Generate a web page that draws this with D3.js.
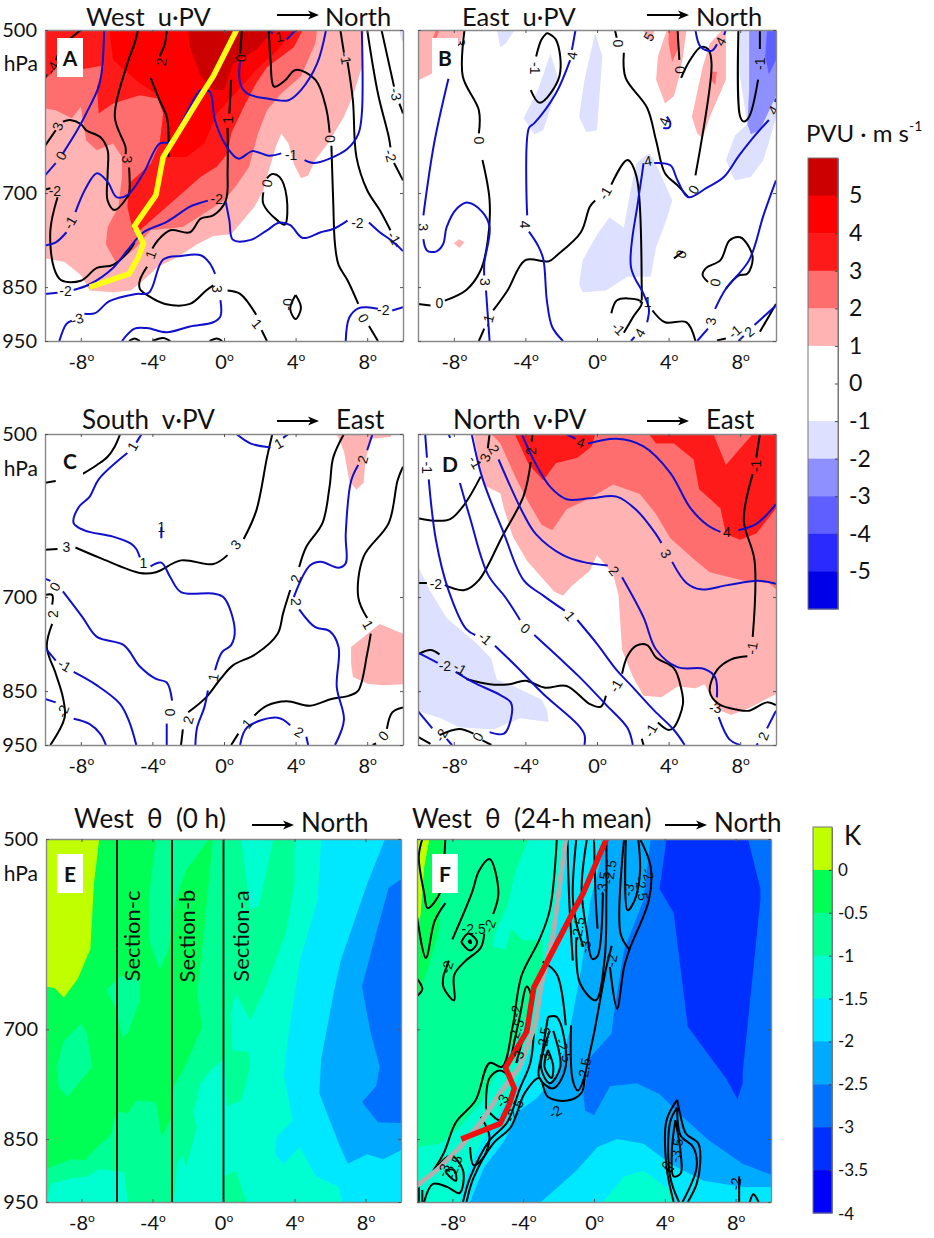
<!DOCTYPE html>
<html><head><meta charset="utf-8">
<script src="https://cdn.jsdelivr.net/npm/d3@7"></script>
<style>html,body{margin:0;padding:0;background:#fff}svg{display:block}text{font-family:Lato,"Open Sans",sans-serif;fill:#111}.cl{font-family:"Liberation Sans",sans-serif;font-size:14px;text-anchor:middle;dominant-baseline:central}</style>
</head><body><svg id="c" width="934" height="1238"></svg>
<script>
// ---------- Values: [latitude offset in degrees, pressure in hPa] ----------
const xTicks=[-8,-4,0,4,8], pTicks=[500,700,850,950];
const pvuLevels=[5,4,3,2,1,0,-1,-2,-3,-4,-5];
const kLevels=[0,-0.5,-1,-1.5,-2,-2.5,-3,-3.5,-4];
const front=[[-7.5,850],[-5.3,827],[-4.8,800],[-4.5,777],[-5,749],[-3.8,703],[-3.4,650],[-1.1,566],[-.6,550],[.7,500]];
const grayFront=[[-10,923],[-8.8,896],[-7.5,860],[-6.3,822],[-5.3,783],[-4.2,748],[-3.3,693],[-3,649],[-2.3,591],[-2,550],[-1.6,500]];
const sectionLats=[-6,-2.9,0], sectionNames=["Section-c","Section-b","Section-a"];

// Panel A
const aFill=[
 [1,[[-10,500],[7.8,500],[7.7,540],[7.2,573],[6.7,598],[5.8,632],[5.1,654],[4.7,675],[4.3,679],[3.9,659],[3.6,632],[3.2,619],[2.9,636],[2.4,677],[2.2,696],[1.7,720],[.9,746],[.4,762],[-.6,765],[-1.5,778],[-2.6,799],[-3.7,815],[-4.5,838],[-5.2,856],[-6.2,859],[-7.5,856],[-8,829],[-8.9,807],[-10,801]]],
 [2,[[-10,500],[5.2,500],[5.1,514],[4.3,550],[3.2,570],[2.4,590],[1.9,619],[1.4,663],[.7,689],[0,711],[-1.1,730],[-2.3,751],[-4.1,756],[-4.9,783],[-6,810],[-6.6,778],[-6.5,751],[-5.9,720],[-5.7,677],[-5.7,650],[-6.2,632],[-7.1,641],[-7.7,628],[-8,586],[-8.5,600],[-9.4,590],[-10,588]]],
 [3,[[-10,500],[4.4,500],[3.9,518],[2.4,540],[1.8,558],[1.1,586],[.4,619],[.2,645],[-.4,663],[-1.3,677],[-3.2,720],[-4.7,756],[-5.1,756],[-5.4,720],[-5.3,686],[-4.1,659],[-3.6,632],[-3.4,594],[-3.7,576],[-4.7,572],[-6.2,582],[-7,594],[-7.1,562],[-6.7,538],[-8.2,543],[-9.3,539],[-10,554]]],
 [4,[[-6.4,500],[3.9,500],[3,521],[1.8,543],[.5,573],[-.4,594],[-1.1,632],[-2.1,650],[-3.2,650],[-3.1,611],[-3.6,573],[-4.7,558],[-6.2,532]]],
 [5,[[-2,500],[2.7,500],[2.6,503],[1.8,521],[.5,536],[0,566],[-.6,566],[-1.3,550],[-1.9,518]]],
 [-1,[[9.8,500],[10,500],[10,512],[9.9,510]]]
];
const aBlack=[
 [[-9.4,532],[-9,517],[-8,500]],[[-10,552],[-9.9,548]],
 [[-4.8,500],[-5,514],[-5.4,536],[-6.1,598],[-5.5,637],[-5.5,646]],
 [[-5.3,664],[-5.3,701],[-5.4,706],[-6.1,725],[-6.5,711],[-6.5,672],[-6.5,641],[-6.9,624],[-7.7,615],[-8,607],[-8.6,602],[-9,604]],
 [[-9.4,615],[-10,635]],
 [[-3.2,500],[-3.3,514],[-3.6,528]],[[-4.1,552],[-3.6,578],[-3.2,598],[-3.1,620],[-3.1,650]],
 [[1,500],[.9,525]],[[.4,554],[.3,594]],
 [[.2,612],[.2,668],[.1,711],[-.6,733],[-1.3,738],[-1.9,759],[-3,756],[-3.7,772],[-4,785]],
 [[-4.3,815],[-4.7,838],[-4.7,853],[-4.2,866],[-3.3,880],[-1.9,880],[-1,856],[-.6,847]],
 [[.2,856],[.9,862],[1.8,900]],[[2.1,929],[2.4,950]],
 [[-9.3,706],[-9.7,756],[-9.5,817],[-9.1,838],[-8,839],[-7.1,817],[-6.2,812],[-5.2,785],[-5,775]],
 [[-10,695],[-9.7,693]],
 [[2.5,500],[2.6,532],[2.8,562],[3.4,555],[4,543],[5.1,554],[5.7,587],[5.9,618]],
 [[6,635],[6.1,711],[6.2,778],[6.4,812],[6.9,838],[7.5,880]],[[8.1,921],[8.6,950]],
 [[6.5,500],[6.7,524]],[[6.9,534],[7.2,578],[7.4,650],[8,696],[8.7,725],[9.3,756]],[[9.6,777],[9.7,782]],
 [[8,500],[8.6,570],[9.2,623],[9.3,637]],[[9.5,658],[10,682]],
 [[8.8,500],[9.5,562]],[[9.8,582],[10,594]],
 [[2.2,699],[2.2,716],[3,741],[3.4,747],[3.5,706],[3.1,677],[2.7,673],[2.4,679]],
 [[4,864],[3.7,889],[4,908],[4.3,887],[4,864]],
 [[-5.3,950],[-5,945],[-4.7,950]],[[-4,950],[-3.4,944],[-3,950]],[[-.8,950],[-.4,945],[-.1,950]]
];
const aBlue=[
 [[-6.7,500],[-6.8,540],[-7,562],[-7.7,594],[-8.2,615],[-9,645]],[[-9.4,658],[-10,675]],
 [[-10,780],[-9.4,775],[-8.8,759]],
 [[-8.3,728],[-7.7,692],[-7.1,672],[-6.5,684],[-6,706],[-5.4,703],[-4.5,672],[-3.6,632],[-3,630],[-2.1,594],[-1.3,566],[-.8,568],[-.5,603],[.2,638],[.8,652],[1.6,642],[2.5,648],[3.2,645]],
 [[4.5,654],[5,658],[5.9,652],[6.9,639],[7.5,620],[7.7,594],[7.7,500]],
 [[5.7,500],[5.2,536],[4.3,566],[3.6,578],[2.4,576],[1.3,570],[.9,558],[.9,532]],
 [[3.5,510],[4,500]],[[2.6,500],[2.7,504]],
 [[-10,862],[-9.3,860]],
 [[-8.4,855],[-7.5,845],[-6.2,817],[-5.4,788],[-4.5,759],[-3.2,743],[-1.9,720],[-1.4,715],[-.9,711]],
 [[.1,713],[.3,741],[.5,771],[1.5,771],[2.4,756],[3.1,744],[3.7,748],[4.4,768],[5.4,759],[6.1,754],[6.9,741]],
 [[8.1,744],[8.7,759],[9.3,771],[10,789]],
 [[-9.2,950],[-8.8,917],[-8.5,911]],
 [[-7.8,898],[-7.2,897],[-6.4,875],[-4.9,862],[-4.2,860],[-3.4,803],[-2.4,797],[-1.3,796],[-.8,809],[-.5,827]],
 [[-5.7,950],[-5,926],[-4.3,925],[-3.2,933],[-1.9,922],[-.6,914],[-.2,903],[-.2,873]],
 [[6.8,950],[7,905],[7.5,888],[8,886],[8.6,889]],[[9.4,892],[10,886]]
];
const aLabels=[["-4",-9.6,541,-60],["2",-3.5,534,-80],["3",-5.4,653,90],["0",.95,530,90],["1",.2,602,-90],["-1",6.8,530,80],["-3",9.6,571,80],["-2",9.3,648,75],["-1",9.5,768,60],["0",5.9,626,90],["0",2.4,686,-80],["-2",-9.45,697,0],["1",-4.1,795,-70],["3",-.4,853,90],["1",1.85,917,50],["-0",3.6,881,-90],["0",7.8,906,60],["3",-9.3,610,-70],
 ["0",-9.1,648,-60],["-1",-8.6,744,-60],["-1",3.75,647,0],["-2",-8.85,857,0],["-2",-.4,709,0],["-2",7.45,744,0],["-3",-8.2,908,-15],["-2",8.9,892,0],["1",3.1,507,-10]];

// Panel B
const bFill=[
 [1,[[-10,500],[-7.4,500],[-8,530],[-9,545],[-10,555]]],
 [2,[[-9,500],[-8.8,500],[-9,510],[-9.2,510]]],
 [1,[[-8,776],[-7.7,770],[-7.4,775],[-7.7,784]]],
 [1,[[2.6,500],[3.2,500],[3.1,510],[2.8,510]]],
 [1,[[3.9,500],[5,500],[4.8,528],[4.6,550],[4.3,573],[3.8,582],[3.3,554],[3.4,528]]],
 [2,[[4,500],[4.6,500],[4.5,521],[4.2,534],[4,514]]],
 [1,[[7,500],[7.2,500],[7.2,554],[6.3,598],[5.9,625],[5.6,619],[5.3,598],[5.9,540],[6.3,514]]],
 [2,[[6.4,545],[6.7,545],[6.6,560],[6.4,555]]],
 [-1,[[-5.6,500],[-4.6,500],[-5.1,514],[-5.4,518]]],
 [-1,[[-2.6,525],[-2.2,550],[-2.6,588],[-3,615],[-3.5,620],[-4.1,600],[-3.3,566]]],
 [-1,[[-.1,503],[.3,528],[0,615],[-.6,617],[-1,598],[-.7,554]]],
 [-1,[[7.9,500],[10,500],[10,600],[9.3,654],[8.6,677],[7.7,682],[7.2,654],[7.7,622],[8.4,607],[7.9,540]]],
 [-2,[[8.5,500],[10,500],[10,573],[9.1,615],[8.6,620],[8.4,607],[8.5,566]]],
 [-3,[[9.5,500],[10,500],[10,532],[9.6,548],[9.4,528]]],
 [-1,[[2.9,645],[3.2,654],[4.2,711],[3.9,738],[3.3,783],[3,832],[1.7,832],[.5,856],[-.8,859],[-1,845],[-.8,804],[0,763],[.7,736],[1.5,752],[1.9,693],[2.2,659],[2.6,650]]]
];
const bBlack=[
 [[-10,880],[-9.3,883]],
 [[-8.5,874],[-7.3,855],[-6.5,821],[-6.1,772],[-6,711],[-6.4,654]],
 [[-6.6,619],[-6.6,590],[-7.5,550],[-7.4,500]],
 [[-6.6,950],[-6.3,926]],
 [[-5.8,892],[-5,856],[-4,804],[-2.7,806],[-2.2,795],[-.9,759],[-.4,720],[-.1,711]],
 [[.8,688],[1.7,654],[2.2,676],[2.5,851],[2.5,874]],
 [[3.1,892],[3.8,914],[5,914],[5.5,950]],
 [[-2.8,503],[-2.3,510],[-2.1,550],[-3.2,581],[-3.7,566]],[[-3.4,528],[-3.1,510],[-2.8,503]],
 [[1,500],[1.1,508]],[[1.5,524],[1.6,552],[2.8,587],[3.3,628],[3.8,672],[4.5,689],[5.1,706]],
 [[5.5,675],[6.4,536],[6.2,520],[5.8,518],[5.2,532],[4.7,552]],
 [[4.5,500],[4.6,532]],
 [[7.9,500],[8,598],[8.2,604],[8.5,598],[9,554]],[[9.1,520],[9.1,500]],
 [[4.3,801],[4.8,790]],
 [[6.2,841],[5.9,829],[6.1,817],[6.9,804],[7.4,772],[8,767],[8.5,783],[8.7,802],[8.4,827],[7.9,830],[7.2,853]],
 [[.8,897],[1.1,874],[1.7,870],[2.5,877],[2,905],[1.5,934]],
 [[6.7,949],[7.2,945]],[[9.1,932],[9.6,903],[10,880]]
];
const bBlue=[
 [[-8.3,553],[-9.1,632],[-9.7,733]],
 [[-9.7,770],[-9.5,788],[-9,790],[-8.6,778],[-8.4,751],[-7.8,722],[-7.2,714],[-6.4,728],[-6,751],[-6.3,810],[-6.3,830]],
 [[-6.2,856],[-6,950]],
 [[-1.2,500],[-1.4,521]],
 [[-1.5,532],[-2.3,570],[-3.5,606],[-3.8,612],[-3.9,733]],
 [[-3.8,758],[-3.3,780],[-3,802],[-2.8,874],[-2.5,923],[-1.9,950]],
 [[2.6,658],[2.5,676],[2.3,711],[1.9,816],[2.6,862],[2.9,889],[2.8,914]],[[1.9,950],[2.1,942]],
 [[3.2,658],[4.1,661],[4.5,682],[5.1,706],[6.1,693],[7.1,677],[7.9,649],[8.7,625],[9.6,602]],[[10,576],[9.95,580]],
 [[5.5,500],[5.8,518],[6.4,522],[6.7,515]],[[7.1,505],[7.2,500]],
 [[3.9,598],[4.1,606],[4,612],[3.7,612]],
 [[5.6,950],[6.2,926]],[[6.6,889],[7.2,853],[8.5,804],[9.3,733],[10,682]],
 [[7.9,950],[8.2,940]],[[8.8,919],[10,883]]
];
const bLabels=[["0",-8.8,879,0],["0",-6.6,628,90],["-1",-3.45,541,90],["-1",.45,700,-60],["0",1.2,514,90],["0",4.65,543,90],["5",2.9,507,-60],["0",5.4,695,-60],["-1",9.1,536,-90],["0",6.6,842,-80],["0",4.7,794,-70],["-1",1.2,926,45],["-1",2.7,877,0],["-1",7.7,932,-40],["-1",-6.1,911,-75],
 ["3",-9.7,751,90],["3",-6.25,841,90],["3",-7.65,513,90],["4",-1.4,527,-80],["4",-4,747,90],["4",2.85,655,-10],["4",2.4,934,-60],["4",6.9,512,-60],["4",3.75,604,-70],["4",9.85,590,-60],["3",6.35,912,-80],["2",8.5,932,-40]];

// Panel C
const cFill=[
 [1,[[6.3,500],[9.4,500],[9.3,503],[8.2,505],[7.9,528],[7.8,553],[7.4,561],[7,551],[6.7,518]]],
 [1,[[7.1,776],[8.7,740],[10,755],[10,838],[8.9,840],[8,837],[7.2,825],[7.1,803]]]
];
const cBlack=[
 [[-7.9,543],[-7.1,533],[-6.5,524],[-6.1,513],[-5.8,500]],[[-10,553],[-9.4,551]],
 [[-10,635],[-9.3,634]],
 [[-8.3,632],[-6.9,646],[-4.7,666],[-3.8,665],[-2.4,649],[-.6,654],[.2,642]],
 [[1.1,621],[1.8,586],[2.4,525],[2.7,500]],
 [[6.7,500],[6.1,525],[5.9,557],[5.5,601],[4.6,631],[4.2,658]],
 [[3.7,690],[3.3,724],[3,755],[1.8,787],[.5,806],[-.2,829],[-1,861],[-2,888]],
 [[-2.3,920],[-2.4,950]],
 [[10,535],[9.7,550],[9.2,601],[7.8,644],[7.5,700],[8,731]],
 [[8.2,755],[8,787],[7.5,849],[7,858],[6,864],[4.8,876],[3.5,868],[2.4,876],[1.7,894]],
 [[.8,928],[.4,950]],
 [[10,879],[9.4,888],[9.1,919]],[[8.5,947],[8.3,950]],
 [[-10,697],[-9.6,697],[-9.6,711]],
 [[-9.6,740],[-9.9,776],[-9.4,820],[-9,861],[-8.9,897],[-9.7,950]]
];
const cBlue=[
 [[-4.6,500],[-4.9,509]],
 [[-5.4,520],[-7,549],[-7.5,569],[-8.1,581],[-8.4,601],[-7.8,610],[-6.2,618],[-5.2,627],[-4.9,634],[-4.7,645]],
 [[-4.1,657],[-3.5,652],[-3,672],[-2.4,693],[-.6,695],[0,701],[.6,749],[.4,773],[-.1,784],[-.5,814]],
 [[-.9,849],[-1.1,879],[-1.5,916],[-1.6,950]],
 [[.7,500],[1.5,510],[2.6,514]],[[3.3,504],[3.6,500]],
 [[-3.5,606],[-3.5,620]],
 [[8.3,500],[8,517]],
 [[7.5,533],[7.1,551],[6.8,615],[6.8,653],[6.4,659],[5.4,651],[4.8,656],[3.9,700]],
 [[4.2,718],[5.1,745],[5.9,751],[6.4,776],[6.3,843],[6.7,902],[6.2,950]],
 [[.9,950],[1.3,916],[3,898],[3.7,912]],[[4.6,934],[4.7,950]],
 [[-10,674],[-9.7,677]],
 [[-9,692],[-7.9,730],[-7.1,760],[-5.6,773],[-4.7,808],[-3.8,829],[-3.2,835],[-2.9,867]],
 [[-3.2,909],[-3.2,950]],
 [[-10,777],[-9.4,798]],[[-8.4,817],[-7.1,840],[-5.8,873],[-5.3,905],[-4.9,950]],
 [[-10,864],[-9.4,870]],[[-8.4,900],[-7.5,910],[-6.9,929],[-6.6,950]]
];
const cLabels=[["3",-8.8,631,0],["3",.65,628,-50],["2",4,674,-75],["2",-9.55,725,-90],["2",-2,902,-75],["1",8.05,741,60],["1",1.3,909,-50],["0",8.9,932,-50],["-2",-9,886,-70],
 ["1",-5.1,513,-60],["1",-4.5,653,0],["1",3.05,510,-30],["1",-3.5,606,0],["0",-9.45,685,-60],["-1",-8.9,806,30],["1",-.6,826,-80],["2",7.75,527,-75],["2",4,707,90],["2",4.2,925,30],["0",-3,888,-90]];

// Panel D
const dFill=[
 [1,[[-6.9,500],[10,500],[10,855],[8.5,880],[7.5,893],[6.8,884],[6,838],[5.5,845],[4.5,842],[3.6,861],[2.6,858],[2,825],[1.4,781],[1.2,697],[.9,668],[0,642],[-.4,663],[-1.4,684],[-1.9,698],[-2.4,692],[-3.9,650],[-4.7,618],[-5.2,583],[-5.4,565],[-6.3,556],[-6.6,530]]],
 [2,[[-5.9,500],[10,500],[10,689],[9.6,680],[8.2,677],[6.3,665],[5.4,647],[4.1,620],[3.3,590],[2.4,566],[.9,555],[-.4,571],[-1.7,584],[-2.5,610],[-3.1,603],[-3.9,573],[-4.5,549],[-5.4,510]]],
 [3,[[-4.6,500],[-.1,500],[-.3,513],[-1.1,525],[-2.3,531],[-3,550],[-3.8,533]]],
 [3,[[2.9,500],[3.3,510],[4.3,510],[5.4,527],[5.7,560],[6.9,583],[7.2,615],[8,622],[8.9,614],[10,583],[10,500],[8.7,500],[7.2,533],[6.5,500]]],
 [-1,[[-10,657],[-9.3,692],[-8.4,731],[-6.7,771],[-5.9,795],[-5.6,830],[-4.9,838],[-3.1,865],[-2.8,884],[-2.7,906],[-4.3,899],[-5.8,920],[-7.7,916],[-8.8,898],[-10,886]]]
];
const dBlack=[
 [[-10,595],[-9.1,598],[-8.2,596],[-7.4,578],[-6.5,546]],[[-6.1,515],[-6,500]],
 [[-10,680],[-9.5,680]],
 [[-8.5,683],[-7.4,690],[-6.6,676],[-5.3,618],[-4.1,568],[-3.7,530]],[[-3.65,508],[-3.6,500]],
 [[9.1,500],[8.9,525]],
 [[8.7,543],[8.2,597],[8.8,649],[8.7,760]],
 [[8.4,791],[7.5,796],[6.7,814],[6.3,851],[6.8,873],[7.8,883],[8.5,885],[9.5,870],[10,875]],
 [[-10,788],[-9.3,781],[-8.8,788]],
 [[-7.3,829],[-6,838],[-4.9,838],[-4,832],[-2.9,844],[-1.7,841],[-.4,873],[.2,878],[.5,858]],
 [[1.4,820],[1.7,791],[2.2,774],[2.8,773],[3.3,793],[4.3,811],[4.7,845],[4.8,873],[4.3,916],[4,921],[3.4,907]],
 [[2.5,938],[2.6,950]],
 [[-10,934],[-9.3,948]],[[-8.8,931],[-7.7,919],[-6.9,928]],[[-6.4,941],[-5.9,950]]
];
const dBlue=[
 [[-9.6,500],[-9.5,525]],[[-9.4,549],[-9,622],[-8.3,690],[-7.3,748],[-6.8,757]],
 [[-5.7,774],[-4.5,808],[-3,855],[-1.1,910],[-.7,930],[-.7,950]],
 [[-10,785],[-8.9,802]],[[-7.9,817],[-6.9,835],[-5.4,857],[-4.8,871],[-4.8,899],[-5.2,928],[-6,925]],
 [[-10,886],[-9.2,918]],[[-8.4,938],[-8.1,950]],
 [[-8.3,500],[-8.2,504]],[[-7.7,550],[-7.1,594],[-6.1,668],[-5.1,701],[-4.3,734]],
 [[-3.5,757],[-2.1,794],[-1,825],[.5,874],[1.7,917],[2,950]],
 [[-7,500],[-6.4,548],[-5.2,614],[-4.1,676],[-3,698],[-1.8,720]],
 [[-1.1,734],[0,771],[1.1,814],[1.9,840],[3.2,885],[4.3,921],[4.9,950]],
 [[-5.5,527],[-4.1,590],[-3.4,615],[-1.9,642],[-.8,651],[.6,656]],
 [[1.4,672],[2.6,730],[3.3,780],[4.5,809],[6,812],[6.6,826],[6.7,861]],
 [[6.8,897],[7.4,939],[8,950]],[[10,885],[9.5,918]],[[9,947],[8.9,950]],
 [[-4.2,500],[-3.5,529],[-2.6,558],[-1.7,572],[-.4,571],[1.1,569],[2.2,585],[3.3,615],[3.6,626]],
 [[4.2,651],[5,680],[5.8,689],[7.3,683],[9,677],[10,681]],
 [[-1.7,500],[-1.2,505]],[[-.5,510],[1.1,505],[2.6,513],[4.1,542],[5.2,582],[6.2,604],[6.9,612]],
 [[7.9,610],[8.9,602],[10,578]]
];
const dLabels=[["2",-3.7,518,-90],["-2",-9,682,0],["-1",8.9,534,-90],["-1",8.65,778,-80],["-2",-8.5,807,0],["-1",-7.65,811,30],["-1",1.05,841,-60],["-1",3,922,-60],["0",-6.65,934,-60],["-2",-8.7,931,-60],["-3",6.6,880,0],
 ["-1",-9.5,536,90],["-1",-6.25,762,40],["0",-4,747,40],["1",-1.5,728,50],["2",.95,663,50],["3",3.85,640,60],["4",7.25,612,0],["4",-.9,509,20],["3",-6.25,525,-70],["2",-5.75,516,60],["2",9.3,933,-70],["-1",-6.8,530,60]];

// Panel E (fills are layered from warm to cold; first entry below is the area above 0 K)
const eFill=[
 [0,[[-10,500],[-7,500],[-7.3,541],[-7.5,607],[-8.2,640],[-9,662],[-9.5,651],[-10,649]]],
 [-.5,[[-10,896],[-8.6,881],[-7.8,882],[-7.1,862],[-6.3,842],[-6.2,822],[-5.9,810],[-5.4,812],[-4.9,794],[-3.8,796],[-3.5,847],[-3,822],[-2.8,774],[-2.1,744],[-1.2,697],[-1.5,657],[-1.1,591],[-.6,500],[10,500],[10,950],[-10,950]]],
 [-.5,[[-3.8,500],[-.8,500],[-2.1,528],[-2.7,557],[-3.1,608],[-3.6,630],[-4.2,598],[-4.2,553]]],
 [-.5,[[-6.6,653],[-5.8,637],[-4.7,641],[-4.7,665],[-5.4,705],[-5.7,710],[-6.1,673]]],
 [-.5,[[-9.4,748],[-9,714],[-8,693],[-7.7,705],[-7.4,748],[-8.8,789],[-9.3,774]]],
 [-1,[[4,500],[4,541],[3.5,591],[2.4,649],[1.5,689],[.7,657],[.4,681],[.5,726],[1.4,729],[1.5,748],[1,794],[.2,802],[0,738],[-.8,755],[-1.3,770],[-1.7,812],[-1.5,832],[-1.8,862],[-2.1,893],[-2.3,876],[-2.6,885],[-2.8,950],[0,950],[0,908],[.7,899],[1.3,950],[10,950],[10,500]]],
 [-1,[[-10,950],[-9.7,920],[-8.6,911],[-7.7,908],[-7,896],[-5.6,901],[-5.4,950]]],
 [-1,[[1,500],[1.5,566],[2,563],[2.8,500]]],
 [-1.5,[[5.5,500],[5.3,557],[4.3,620],[3.6,716],[3.4,760],[3.9,822],[3,847],[2.9,873],[3.4,888],[4.3,862],[5.2,908],[6.5,925],[6.7,950],[10,950],[10,500]]],
 [-2,[[9.1,500],[8.1,541],[6.6,620],[6.2,657],[5.5,738],[5.4,784],[6.5,857],[7,888],[8.1,873],[9,881],[10,867],[10,500]]],
 [-2.5,[[10,537],[9.3,545],[8.6,591],[7.8,649],[8.3,705],[8.8,748],[8.6,774],[7.8,796],[8.7,825],[10,826]]]
];

// Panel F
const fFill=[
 [0,[[-10,500],[-9.3,500],[-9.6,526],[-9.8,572],[-10,586]]],
 [-.5,[[-8.5,500],[-8.6,541],[-8.8,591],[-9.5,635],[-10,665],[-10,950],[10,950],[10,500]]],
 [-1,[[-3.7,500],[-4.4,528],[-4.9,563],[-5.6,591],[-5.7,605],[-5,608],[-4.7,586],[-4,598],[-2.9,598],[-2.9,635],[-3.6,673],[-4.4,713],[-5.3,748],[-6.3,794],[-7.6,832],[-8.7,857],[-10,862],[-10,950],[10,950],[10,500]]],
 [-1.5,[[-1.6,500],[-1.9,557],[-2.7,608],[-3,649],[-3.2,705],[-4,748],[-4.7,787],[-6.1,842],[-7.1,893],[-7.6,950],[10,950],[10,500]]],
 [-2,[[.7,500],[-.2,557],[-.7,627],[-1.4,705],[-2.1,758],[-3.2,790],[-4.2,808],[-5.1,854],[-6.2,893],[-7,950],[10,950],[10,500]]],
 [-2.5,[[3.2,500],[2.8,557],[1.7,608],[1.1,685],[1,705],[-.2,735],[-.6,787],[-.5,808],[0,815],[.9,774],[2.4,770],[3.7,785],[5,817],[6.5,852],[8.4,888],[10,905],[10,500]]],
 [-3,[[4.1,500],[3.7,546],[4.5,570],[5.3,697],[7.5,765],[8.1,792],[8.4,770],[8.4,756],[9.4,557],[9.4,546],[8.7,500]]],
 [-1.5,[[-3,950],[-1,899],[.2,862],[1.3,850],[2.8,857],[4.3,888],[6.2,915],[8.4,925],[10,925],[10,950]]],
 [-1,[[.5,950],[1.7,908],[2.8,899],[4.3,930],[4.5,950]]]
];
const fBlack=[
 [[-9.7,500],[-9.9,516],[-9.6,550],[-9.4,565],[-8.7,550],[-8.5,525],[-8.4,500]],
 [[-10,573],[-9.5,617],[-9,578],[-8.4,560]],
 [[-8.5,636],[-8.2,620]],[[-8,597],[-6.9,550],[-6.5,529],[-5.9,518],[-5.4,550],[-5.7,571]],
 [[-6.2,591],[-6.4,606],[-7.3,621],[-7.9,636],[-7.9,665],[-8.5,650],[-8.5,636]],
 [[-7.5,600],[-7.1,591],[-6.6,600],[-7,609],[-7.5,600]],[[-7.1,600],[-7,598],[-6.95,601],[-7.1,600]],
 [[-10,640],[-9.7,652],[-10,660]],
 [[-9.3,908],[-8.5,872],[-7.8,825],[-6.7,794],[-5.9,743],[-5.2,748],[-4.6,697],[-4.1,637],[-3.1,598],[-2.5,567],[-2.1,500]],
 [[-7,862],[-6.8,890],[-6.3,880],[-5.9,847],[-6.4,817]],
 [[-7.2,950],[-6.8,910],[-5.7,857],[-4.7,832],[-3.9,783],[-3.1,763],[-2.6,789],[-1.5,794],[-.7,783],[-.5,758],[0,705],[.7,627],[1,604]],
 [[-7.4,950],[-7,910],[-5.9,852],[-4.9,825],[-4.2,778],[-3.6,743],[-3.4,705]],
 [[-6.1,805],[-5.9,763],[-5.3,753],[-4.6,770],[-5.3,822],[-6.1,805]],
 [[-4.7,737],[-4.2,685],[-3.8,649],[-3.5,665],[-3.9,702],[-4.4,743]],
 [[-2.6,685],[-2.9,726],[-3.1,762],[-2.3,777],[-1.6,748],[-2.1,685],[-2.6,685]],
 [[-2.6,726],[-2.8,748],[-2.4,763],[-2.3,748],[-2.6,726]],
 [[-2.5,702],[-3,748],[-2.5,770],[-1.9,748],[-2.3,702]],
 [[-1.3,695],[-1.2,766],[-.9,780],[-.5,758]],
 [[-2.9,621],[-2.1,635],[-1.6,695]],
 [[-1,595],[-.8,645],[.1,665],[.6,618],[.7,550],[.7,500]],
 [[-.4,500],[-.7,546],[-.4,590],[-.1,618],[.2,615],[.5,550]],
 [[.9,627],[1.3,675],[1.7,627],[2,608],[3.1,557],[3.2,525],[2.6,500]],
 [[1.7,500],[1.5,591],[2,608]],
 [[1.8,500],[1.9,567],[2.3,557],[2.6,530],[2.5,500]],
 [[0,500],[.1,557],[.2,586]],
 [[-1.5,500],[-1.4,557],[-1.2,620]],
 [[-1,500],[-1.2,553],[-1,580],[-.6,605]],
 [[4.7,793],[4.1,822],[4.1,893],[4.5,950]],[[4.7,793],[4.9,817],[5.2,842],[5.9,857],[6,888],[5.8,920],[5.3,950]],
 [[4.7,804],[4.3,825],[4.3,908],[4.8,950]],[[4.7,804],[4.9,845],[5.6,862],[5.8,893],[5,950]],
 [[4.6,822],[4.4,867],[4.5,908],[4.9,903],[4.9,873],[4.6,822]],
 [[4,893],[4.3,900],[4.5,895]],
 [[-8.8,891],[-8.1,875],[-7.4,898],[-7.6,935],[-8.3,925],[-9.1,920],[-9.6,950]],
 [[-8.4,898],[-7.9,898],[-7.8,915],[-8.3,904],[-8.4,898]],
 [[-9.9,920],[-9.9,950]],[[-9.7,930],[-9.7,950]],
 [[8.2,908],[8.2,950]],[[8.8,950],[9,937],[9.3,950]]
];
const fLabels=[["-2.5",-6.8,586,0],["-2",-5.9,583,-70],["-2",-8.3,627,-70],["-2",-4.4,678,-80],["-2.5",-4.4,702,-70],["-3",-4.3,735,-70],["-3",-5.2,794,-60],["-2.5",-4.5,808,-60],["-2.5",-2.85,712,-80],["-3",-2.8,738,-80],["-2.5",-1.7,726,70],["-2.5",-.55,752,-80],["-2",-2.2,810,-30],["-2",1,620,-80],["-2.5",-.9,586,-80],["-3",-.5,605,-80],["-3.5",.5,541,-80],["-2.5",.9,530,-80],["-3",1.95,547,-80],["-2.5",2.7,546,80],["-2",3.05,532,70],["-3.5",4.65,867,-80],["-3",4.1,893,-80],["-2",8,920,-80],["-2.5",-7.9,893,-70],["-3",-8.5,898,-70]];

// ---------- Rendering ----------
const svg=d3.select("#c");
const pvuColor=new Map([[5,"#CC0000"],[4,"#FF0000"],[3,"#FF1A1A"],[2,"#FF6E6E"],[1,"#FFB3B3"],[-1,"#DDE0FF"],[-2,"#8F90FF"],[-3,"#5F5FFF"],[-4,"#2A2AFF"],[-5,"#0000E8"]]);
const kColor=new Map([[0,"#BFFF00"],[-.5,"#00FF95"],[-1,"#00FFD0"],[-1.5,"#00E8FF"],[-2,"#00AAFF"],[-2.5,"#0070FF"],[-3,"#0030FF"],[-3.5,"#0000FF"]]);
const BLUE="#1010CC", BLACK="#000";

function panel(o){
  const x=d3.scaleLinear().domain([-10,10]).range([o.l,o.r]);
  const y=d3.scaleLog().domain([500,950]).range([o.t,o.b]);
  const g=svg.append("g");
  const id="clip"+o.id;
  svg.append("clipPath").attr("id",id).append("rect").attr("x",o.l).attr("y",o.t).attr("width",o.r-o.l).attr("height",o.b-o.t);
  const body=g.append("g").attr("clip-path",`url(#${id})`);
  body.append("rect").attr("x",o.l).attr("y",o.t).attr("width",o.r-o.l).attr("height",o.b-o.t).attr("fill",o.bg||"#fff");
  const area=d3.line().x(d=>x(d[0])).y(d=>y(d[1])).curve(d3.curveLinearClosed);
  const line=d3.line().x(d=>x(d[0])).y(d=>y(d[1])).curve(d3.curveCatmullRom.alpha(.5));
  body.selectAll(null).data(o.fill||[]).join("path").attr("d",d=>area(d[1])).attr("fill",d=>o.colors.get(d[0]));
  const stroke=(arr,c,w)=>body.selectAll(null).data(arr||[]).join("path").attr("d",line).attr("fill","none").attr("stroke",c).attr("stroke-width",w).attr("stroke-linejoin","round");
  stroke(o.black,BLACK,2); stroke(o.blue,BLUE,2);
  (o.sections||[]).forEach(s=>body.append("line").attr("x1",x(s)).attr("x2",x(s)).attr("y1",o.t).attr("y2",o.b).attr("stroke","#000").attr("stroke-width",1.8));
  if(o.gray) body.append("path").datum(o.gray).attr("d",d3.line().x(d=>x(d[0])).y(d=>y(d[1]))).attr("fill","none").attr("stroke","#B0B0B0").attr("stroke-width",5);
  if(o.track) body.append("path").datum(o.track).attr("d",d3.line().x(d=>x(d[0])).y(d=>y(d[1]))).attr("fill","none").attr("stroke",o.trackColor).attr("stroke-width",5.5).attr("stroke-linejoin","round");
  body.selectAll(null).data(o.labels||[]).join("text").attr("class","cl").attr("transform",d=>`translate(${x(d[1])},${y(d[2])}) rotate(${d[3]})`).text(d=>d[0]);
  // frame and axes
  const sty=s=>{s.select(".domain").attr("stroke","#888").attr("stroke-width",1.4);s.selectAll(".tick line").attr("stroke","#555").attr("stroke-width",1);};
  const xa=g.append("g").attr("transform",`translate(0,${o.b})`).call(d3.axisBottom(x).tickValues(xTicks).tickSizeOuter(0).tickSizeInner(-3).tickPadding(14)).call(sty);
  xa.selectAll("text").attr("font-size",20).attr("fill","#111").attr("font-family","Lato").each(function(d){const t=d3.select(this);t.text(null);t.append("tspan").text(d);t.append("tspan").text("o").attr("font-size",12).attr("dy",-8);});
  g.append("g").attr("transform",`translate(0,${o.t})`).call(d3.axisTop(x).tickValues(xTicks).tickSizeOuter(0).tickSizeInner(-3).tickFormat("")).call(sty);
  const ya=g.append("g").attr("transform",`translate(${o.l},0)`).call(d3.axisLeft(y).tickValues(pTicks).tickSizeOuter(0).tickSizeInner(-3).tickPadding(8).tickFormat(o.yLabels?d3.format("d"):"")).call(sty);
  ya.selectAll("text").attr("font-size",20).attr("fill","#111").attr("font-family","Lato");
  g.append("g").attr("transform",`translate(${o.r},0)`).call(d3.axisRight(y).tickValues(pTicks).tickSizeOuter(0).tickSizeInner(-3).tickFormat("")).call(sty);
  if(o.yLabels) g.append("text").attr("x",38).attr("y",o.hpaY).attr("text-anchor","end").attr("dominant-baseline","central").attr("font-size",21).text("hPa");
  // letter box
  g.append("rect").attr("x",o.bx).attr("y",o.by).attr("width",26).attr("height",39).attr("fill","#fff");
  g.append("text").attr("x",o.bx+13).attr("y",o.by+19.5).attr("text-anchor","middle").attr("dominant-baseline","central").attr("font-family","Liberation Sans").attr("font-weight","bold").attr("font-size",21).attr("fill","#000").text(o.id);
  // title
  const T=(s,xx,yy)=>g.append("text").attr("x",xx).attr("y",yy).attr("dominant-baseline","central").attr("font-size",o.tf||26).style("white-space","pre").text(s);
  T(o.title,o.tx,o.ty);
  T(o.dir,o.dx,o.dy);
  g.append("line").attr("x1",o.ax).attr("x2",o.ax+36).attr("y1",o.ay).attr("y2",o.ay).attr("stroke","#000").attr("stroke-width",2);
  g.append("path").attr("d",`M${o.ax+42},${o.ay}L${o.ax+31},${o.ay-4.5}L${o.ax+34},${o.ay}L${o.ax+31},${o.ay+4.5}Z`).attr("fill","#000");
}

panel({id:"A",l:45,r:403,t:30,b:341,yLabels:true,hpaY:62,fill:aFill,colors:pvuColor,black:aBlack,blue:aBlue,labels:aLabels,track:front,trackColor:"#FFFF14",bx:57,by:38,title:"West  u·PV",tx:86,ty:15.5,tf:25.5,dir:"North",dx:325,dy:15.5,ax:277,ay:15});
panel({id:"B",l:418,r:776,t:30,b:341,fill:bFill,colors:pvuColor,black:bBlack,blue:bBlue,labels:bLabels,bx:432,by:38,title:"East  u·PV",tx:462,ty:15.5,tf:25.5,dir:"North",dx:696,dy:15.5,ax:647,ay:15});
panel({id:"C",l:45,r:403,t:434,b:745,yLabels:true,hpaY:467,fill:cFill,colors:pvuColor,black:cBlack,blue:cBlue,labels:cLabels,bx:57,by:441,title:"South  v·PV",tx:82,ty:419,dir:"East",dx:336,dy:419,ax:277,ay:421});
panel({id:"D",l:418,r:776,t:434,b:745,fill:dFill,colors:pvuColor,black:dBlack,blue:dBlue,labels:dLabels,bx:437,by:444,title:"North  v·PV",tx:453,ty:419,dir:"East",dx:706,dy:419,ax:647,ay:421});
panel({id:"E",l:46,r:401,t:839,b:1202,yLabels:true,hpaY:872,bg:"#00FF55",fill:eFill,colors:kColor,sections:sectionLats,bx:57,by:854,title:"West  θ  (0 h)",tx:74,ty:818,dir:"North",dx:301,dy:822,ax:252,ay:825});
panel({id:"F",l:417,r:771,t:839,b:1202,bg:"#00FF55",fill:fFill,colors:kColor,black:fBlack,labels:fLabels,gray:grayFront,track:front,trackColor:"#F01010",bx:432,by:854,title:"West  θ  (24-h mean)",tx:412,ty:818,dir:"North",dx:714,dy:822,ax:665,ay:825});

// section labels
[131,186,240].forEach((px,i)=>svg.append("text").attr("transform",`translate(${px},936) rotate(-90)`).attr("text-anchor","middle").attr("dominant-baseline","central").attr("font-size",22).text(sectionNames[i]));

// colour bars
function bar(cfg){
  const y=d3.scaleLinear().domain(cfg.domain).range([cfg.t,cfg.b]);
  const g=svg.append("g");
  const edges=[cfg.domain[0],...cfg.levels,cfg.domain[1]];
  g.selectAll(null).data(d3.pairs(edges)).join("rect").attr("x",cfg.l).attr("width",cfg.r-cfg.l).attr("y",d=>y(d[0])).attr("height",d=>y(d[1])-y(d[0])+.5).attr("fill",(d,i)=>cfg.colors[i]);
  const ax=g.append("g").attr("transform",`translate(${cfg.r},0)`).call(d3.axisRight(y).tickValues(cfg.levels).tickSizeOuter(0).tickSizeInner(-3).tickPadding(cfg.pad).tickFormat(d=>String(d)));
  ax.select(".domain").attr("stroke","#777").attr("stroke-width",1);
  ax.selectAll(".tick line").attr("stroke","#444");
  ax.selectAll("text").attr("font-size",cfg.fs).attr("fill","#111").attr("font-family","Lato");
  g.append("rect").attr("x",cfg.l).attr("y",cfg.t).attr("width",cfg.r-cfg.l).attr("height",cfg.b-cfg.t).attr("fill","none").attr("stroke","#777").attr("stroke-width",1);
}
bar({domain:[6,-6],levels:pvuLevels,l:808,r:838,t:158,b:609,pad:11,fs:23,colors:["#CC0000","#FF0000","#FF1A1A","#FF6E6E","#FFB3B3","#fff","#fff","#DDE0FF","#8F90FF","#5F5FFF","#2A2AFF","#0000E8"]});
bar({domain:[.5,-4],levels:kLevels.slice(0,-1),l:813,r:832,t:827,b:1213,pad:6,fs:17,colors:["#BFFF00","#00FF55","#00FF95","#00FFD0","#00E8FF","#00AAFF","#0070FF","#0030FF","#0000FF"]});
svg.append("text").attr("x",838).attr("y",1213).attr("dominant-baseline","central").attr("font-size",17).text("-4");
const pv=svg.append("text").attr("x",806).attr("y",132).attr("dominant-baseline","central").attr("font-size",24);
pv.append("tspan").text("PVU · m s");pv.append("tspan").text("-1").attr("font-size",14).attr("dy",-7);
svg.append("text").attr("x",844).attr("y",835).attr("dominant-baseline","central").attr("font-size",26).text("K");
</script></body></html>
